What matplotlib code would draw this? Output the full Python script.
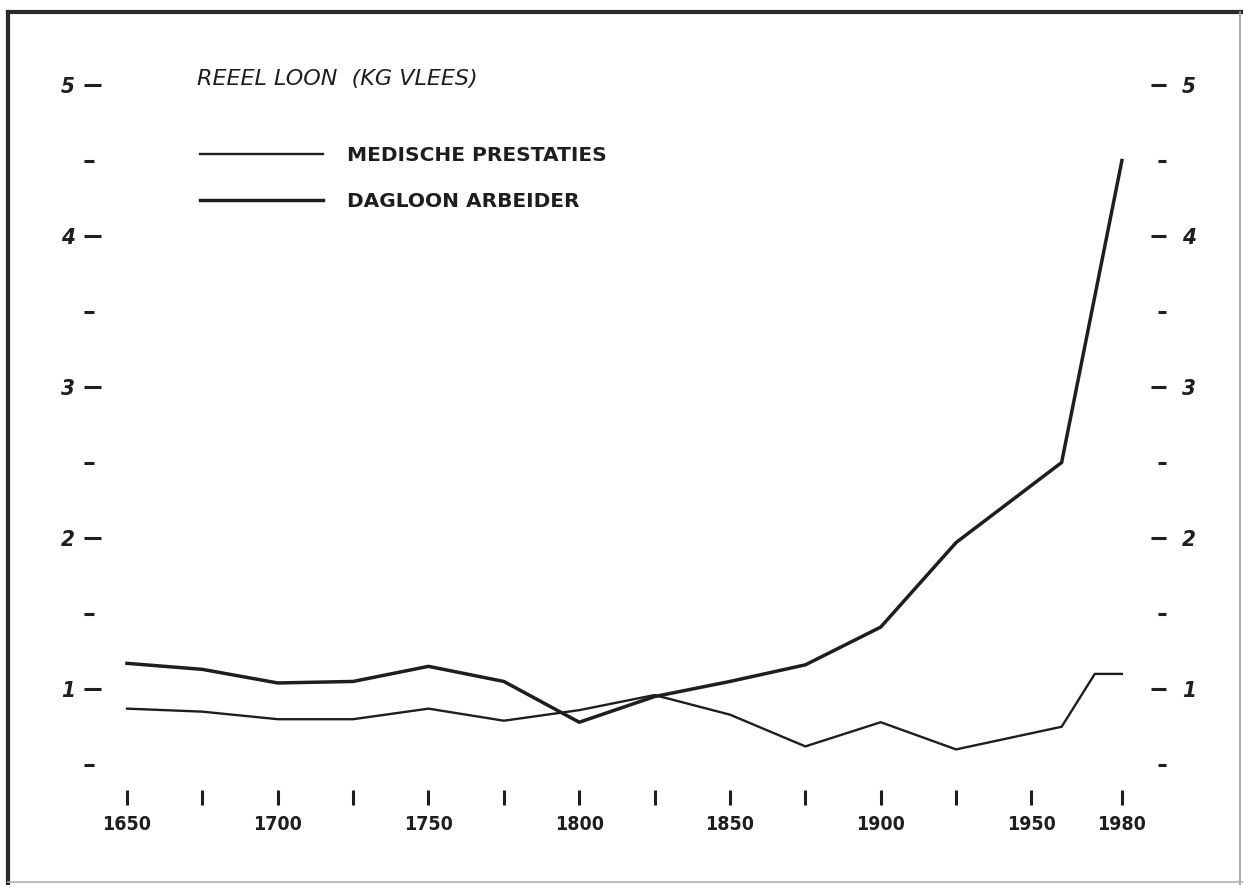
import matplotlib
matplotlib.use("Agg")
import matplotlib.pyplot as plt
from matplotlib.lines import Line2D

# ---- data ----
years_dagloon = [1650, 1675, 1700, 1725, 1750, 1775, 1800, 1825, 1850, 1875, 1900, 1925, 1960, 1980]
dagloon = [1.17, 1.13, 1.04, 1.05, 1.15, 1.05, 0.78, 0.95, 1.05, 1.16, 1.41, 1.97, 2.50, 4.50]

years_medisch = [1650, 1675, 1700, 1725, 1750, 1775, 1800, 1825, 1850, 1875, 1900, 1925, 1960, 1971, 1980]
medisch = [0.87, 0.85, 0.80, 0.80, 0.87, 0.79, 0.86, 0.96, 0.83, 0.62, 0.78, 0.60, 0.75, 1.10, 1.10]

x_ticks = [1650, 1675, 1700, 1725, 1750, 1775, 1800, 1825, 1850, 1875, 1900, 1925, 1950, 1980]
x_labels = ["1650", "", "1700", "", "1750", "", "1800", "", "1850", "", "1900", "", "1950", "1980"]
y_major = [1, 2, 3, 4, 5]
y_minor = [0.5, 1.5, 2.5, 3.5, 4.5]
title = "REEEL LOON  (KG VLEES)"
label_medisch = "MEDISCHE PRESTATIES"
label_dagloon = "DAGLOON ARBEIDER"

INK = "#1e1e1e"
W, H = 1243, 885

fig = plt.figure(figsize=(W / 100, H / 100), dpi=100)
fig.patch.set_facecolor("white")
ax = fig.add_axes([0, 0, 1, 1])
ax.set_facecolor("none")

XMIN, XMAX = 1607.88, 2020.16
YMIN, YMAX = -0.298, 5.563
ax.set_xlim(XMIN, XMAX)
ax.set_ylim(YMIN, YMAX)

ax.plot(years_medisch, medisch, color=INK, lw=1.7, solid_joinstyle="miter",
        label=label_medisch)
ax.plot(years_dagloon, dagloon, color=INK, lw=2.5, solid_joinstyle="miter",
        label=label_dagloon)

# spines
for s in ["top", "right", "bottom", "left"]:
    ax.spines[s].set_visible(False)
ax.spines["bottom"].set_position(("data", 0.2815))
ax.spines["left"].set_position(("data", 1635.7))

# x ticks
ax.set_xticks(x_ticks)
ax.set_xticklabels(x_labels, fontsize=14, fontweight="bold",
                   fontstretch="condensed", family="DejaVu Sans", color=INK)
ax.tick_params(axis="x", direction="inout", length=10.8, width=2.2,
               color=INK, pad=7.5)

# left y ticks
ax.set_yticks(y_major)
ax.set_yticks(y_minor, minor=True)
ax.set_yticklabels([str(v) for v in y_major], fontsize=16, fontweight="bold",
                   fontstyle="italic", fontstretch="condensed",
                   family="DejaVu Sans", color=INK)
ax.tick_params(axis="y", which="major", direction="in", length=12.2, width=2.2,
               color=INK, pad=6.5)
ax.tick_params(axis="y", which="minor", direction="in", length=7.0, width=2.2,
               color=INK)

# right y ticks via twin axis
ax2 = ax.twinx()
ax2.set_ylim(YMIN, YMAX)
for s in ["top", "right", "bottom", "left"]:
    ax2.spines[s].set_visible(False)
ax2.spines["right"].set_position(("data", 1994.6))
ax2.set_yticks(y_major)
ax2.set_yticks(y_minor, minor=True)
ax2.set_yticklabels([str(v) for v in y_major], fontsize=16, fontweight="bold",
                    fontstyle="italic", fontstretch="condensed",
                    family="DejaVu Sans", color=INK)
ax2.tick_params(axis="y", which="major", direction="in", length=11.0, width=2.2,
                color=INK, pad=11.5)
ax2.tick_params(axis="y", which="minor", direction="in", length=6.0, width=2.2,
                color=INK)

# title
fig.text(197 / W, 1 - 79 / H, title, fontsize=16, fontstyle="italic",
         family="DejaVu Sans", color=INK, va="center", ha="left")

# legend
leg = ax.legend(loc="upper left", bbox_to_anchor=(200 / W, 1 - 146 / H),
                bbox_transform=fig.transFigure, frameon=False, borderpad=0,
                borderaxespad=0, handlelength=6.1, handletextpad=1.2,
                labelspacing=1.33,
                prop={"weight": "bold", "size": 14.5, "family": "DejaVu Sans"})
for t in leg.get_texts():
    t.set_color(INK)

# outer frame of the drawing
fig.add_artist(Line2D([8 / W, 1.0], [1 - 12 / H, 1 - 12 / H], transform=fig.transFigure,
                      color="#2a2a2a", lw=3.0))
fig.add_artist(Line2D([8 / W, 8 / W], [1 - 12 / H, 0], transform=fig.transFigure,
                      color="#2a2a2a", lw=3.0))
fig.add_artist(Line2D([1240 / W, 1240 / W], [1 - 12 / H, 0], transform=fig.transFigure,
                      color="#9a9a9a", lw=1.2))
fig.add_artist(Line2D([8 / W, 1.0], [1 - 882 / H, 1 - 882 / H], transform=fig.transFigure,
                      color="#b0b0b0", lw=1.2))

fig.savefig("out.png", dpi=100)
